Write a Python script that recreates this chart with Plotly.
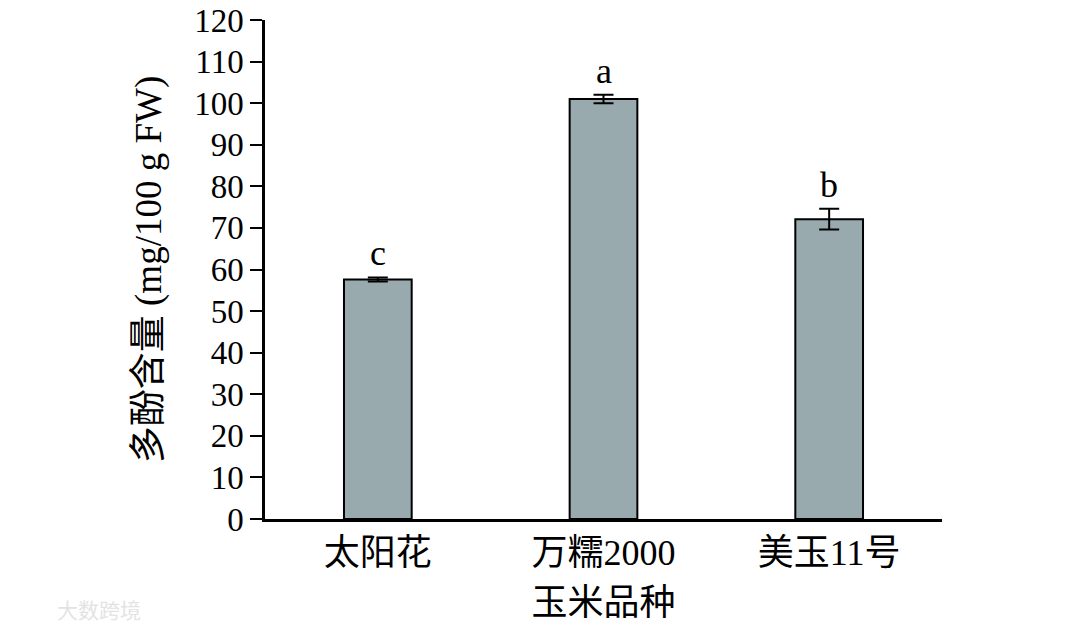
import plotly.graph_objects as go

varieties = ['太阳花', '万糯2000', '美玉11号']
polyphenol = [57.6, 101.0, 72.1]
errors = [0.5, 1.0, 2.5]
letters = ['c', 'a', 'b']
y_ticks = list(range(0, 121, 10))

font_fam = 'Liberation Serif, Times New Roman, Noto Sans CJK SC, serif'

fig = go.Figure()
fig.add_trace(go.Bar(
    x=varieties,
    y=polyphenol,
    width=0.3,
    marker=dict(color='#99aaae', line=dict(color='black', width=2)),
    error_y=dict(type='data', array=errors, visible=True,
                 color='black', thickness=2, width=10),
    showlegend=False,
))

for v, val, err, lab in zip(varieties, polyphenol, errors, letters):
    fig.add_annotation(x=v, y=val + err, text=lab, showarrow=False,
                       yanchor='bottom', yshift=2,
                       font=dict(family=font_fam, size=36, color='black'))

# faint watermark bottom-left
fig.add_annotation(x=0.0, y=0.0, xref='paper', yref='paper',
                   xanchor='left', yanchor='middle', text='大数跨境',
                   showarrow=False, xshift=-210, yshift=-90,
                   font=dict(family='Noto Sans CJK SC', size=21, color='#e3e3e3'))

fig.update_layout(
    width=1080, height=630,
    margin=dict(l=265, r=138, t=20, b=111),
    plot_bgcolor='white', paper_bgcolor='white',
    font=dict(family=font_fam, size=33, color='black'),
    bargap=0.7,
    xaxis=dict(
        range=[-0.5, 2.5], automargin=False,
        showline=True, linecolor='black', linewidth=2.5,
        ticks='', tickfont=dict(size=36),
        title=dict(text='玉米品种', font=dict(size=36), standoff=18),
    ),
    yaxis=dict(
        range=[0, 120], tickvals=y_ticks, automargin=False,
        showline=True, linecolor='black', linewidth=2.5,
        ticks='outside', ticklen=12, tickwidth=2, tickcolor='black',
        showgrid=False, zeroline=False,
        tickfont=dict(size=33),
        title=dict(text='多酚含量 (mg/100 g FW)', font=dict(size=37), standoff=22),
    ),
)

# drop the default 8px body margin so the figure fills the window
fig.write_html('out.html', config={'displayModeBar': False},
               post_script="document.body.style.margin='0';")
